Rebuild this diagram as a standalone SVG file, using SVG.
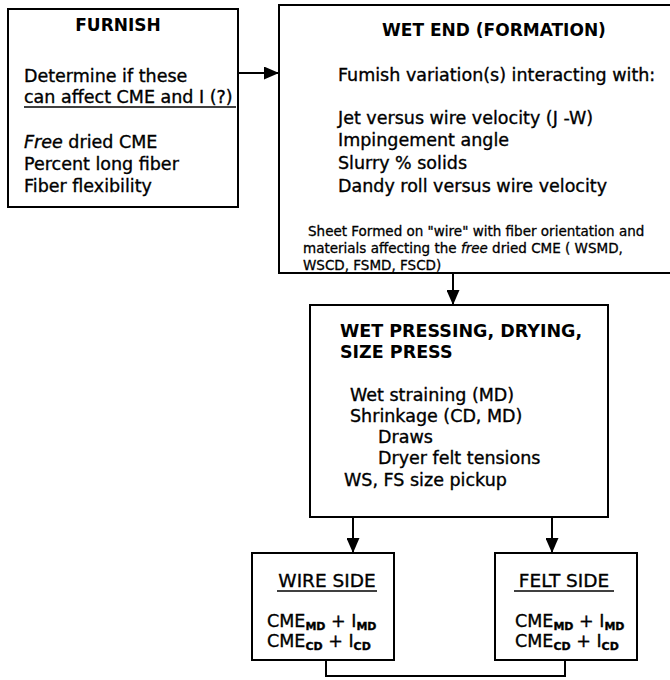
<svg xmlns="http://www.w3.org/2000/svg" width="670" height="680" viewBox="0 0 670 680">
<style>
  .box { fill: #fff; stroke: #000; stroke-width: 2; }
  text { font-family: "DejaVu Sans", "Liberation Sans", sans-serif; fill: #000; }
  .t { font-size: 17px; font-weight: bold; }
  .b { font-size: 17.5px; stroke: #000; stroke-width: 0.35; }
  .s { font-size: 13.5px; stroke: #000; stroke-width: 0.3; }
  .sub { font-size: 11px; font-weight: bold; }
  .ul { stroke: #000; stroke-width: 1.5; }
  .c { stroke: #000; stroke-width: 2; fill: none; }
</style>
<defs>
  <marker id="ah" markerUnits="userSpaceOnUse" markerWidth="15" markerHeight="13" refX="15" refY="6.5" orient="auto">
    <path d="M0,0 L15,6.5 L0,13 z" fill="#000"/>
  </marker>
</defs>
<rect width="670" height="680" fill="#fff"/>

<g id="furnish">
  <rect class="box" x="8" y="9" width="230" height="198"/>
  <text class="t" x="118" y="31" text-anchor="middle">FURNISH</text>
  <text class="b" x="24" y="82">Determine if these</text>
  <text class="b" x="24" y="103">can affect CME and I (?)</text>
  <line class="ul" x1="24" y1="107" x2="236" y2="107"/>
  <text class="b" x="24" y="148"><tspan font-style="italic">Free</tspan> dried CME</text>
  <text class="b" x="24" y="170">Percent long fiber</text>
  <text class="b" x="24" y="192">Fiber flexibility</text>
</g>

<g id="wetend">
  <rect class="box" x="279" y="5" width="400" height="268"/>
  <text class="t" x="494" y="36" text-anchor="middle">WET END (FORMATION)</text>
  <text class="b" x="338" y="81">Fumish variation(s) interacting with:</text>
  <text class="b" x="338" y="124">Jet versus wire velocity (J -W)</text>
  <text class="b" x="338" y="146">Impingement angle</text>
  <text class="b" x="338" y="169">Slurry % solids</text>
  <text class="b" x="338" y="192">Dandy roll versus wire velocity</text>
  <text class="s" x="308" y="236">Sheet Formed on "wire" with fiber orientation and</text>
  <text class="s" x="303" y="253">materials affecting the <tspan font-style="italic">free</tspan>  dried CME ( WSMD,</text>
  <text class="s" x="303" y="270">WSCD, FSMD, FSCD)</text>
</g>

<g id="pressing">
  <rect class="box" x="310" y="305" width="298" height="212"/>
  <text class="t" x="340" y="337" style="font-size:17.5px">WET PRESSING, DRYING,</text>
  <text class="t" x="340" y="358" style="font-size:17.5px">SIZE PRESS</text>
  <text class="b" x="350" y="401">Wet straining (MD)</text>
  <text class="b" x="350" y="422">Shrinkage (CD, MD)</text>
  <text class="b" x="378" y="443">Draws</text>
  <text class="b" x="378" y="464">Dryer felt tensions</text>
  <text class="b" x="344" y="486">WS, FS size pickup</text>
</g>

<g id="wireside">
  <rect class="box" x="252" y="553" width="142" height="107"/>
  <text class="b" x="327" y="587" text-anchor="middle" style="font-size:18.5px">WIRE SIDE</text>
  <line class="ul" x1="277" y1="591" x2="377" y2="591"/>
  <text class="b" x="267" y="627">CME<tspan class="sub" dy="3">MD</tspan><tspan dy="-3"> + I</tspan><tspan class="sub" dy="3">MD</tspan></text>
  <text class="b" x="267" y="647">CME<tspan class="sub" dy="3">CD</tspan><tspan dy="-3"> + I</tspan><tspan class="sub" dy="3">CD</tspan></text>
</g>

<g id="feltside">
  <rect class="box" x="495" y="553" width="142" height="107"/>
  <text class="b" x="564" y="587" text-anchor="middle" style="font-size:18.5px">FELT SIDE</text>
  <line class="ul" x1="514" y1="591" x2="614" y2="591"/>
  <text class="b" x="515" y="627">CME<tspan class="sub" dy="3">MD</tspan><tspan dy="-3"> + I</tspan><tspan class="sub" dy="3">MD</tspan></text>
  <text class="b" x="515" y="647">CME<tspan class="sub" dy="3">CD</tspan><tspan dy="-3"> + I</tspan><tspan class="sub" dy="3">CD</tspan></text>
</g>

<g id="connectors">
  <line class="c" x1="238" y1="73" x2="279" y2="73" marker-end="url(#ah)"/>
  <line class="c" x1="453" y1="273" x2="453" y2="305" marker-end="url(#ah)"/>
  <line class="c" x1="353" y1="517" x2="353" y2="553" marker-end="url(#ah)"/>
  <line class="c" x1="552" y1="517" x2="552" y2="553" marker-end="url(#ah)"/>
  <polyline class="c" points="326,660 326,676 565,676 565,660"/>
</g>
</svg>
